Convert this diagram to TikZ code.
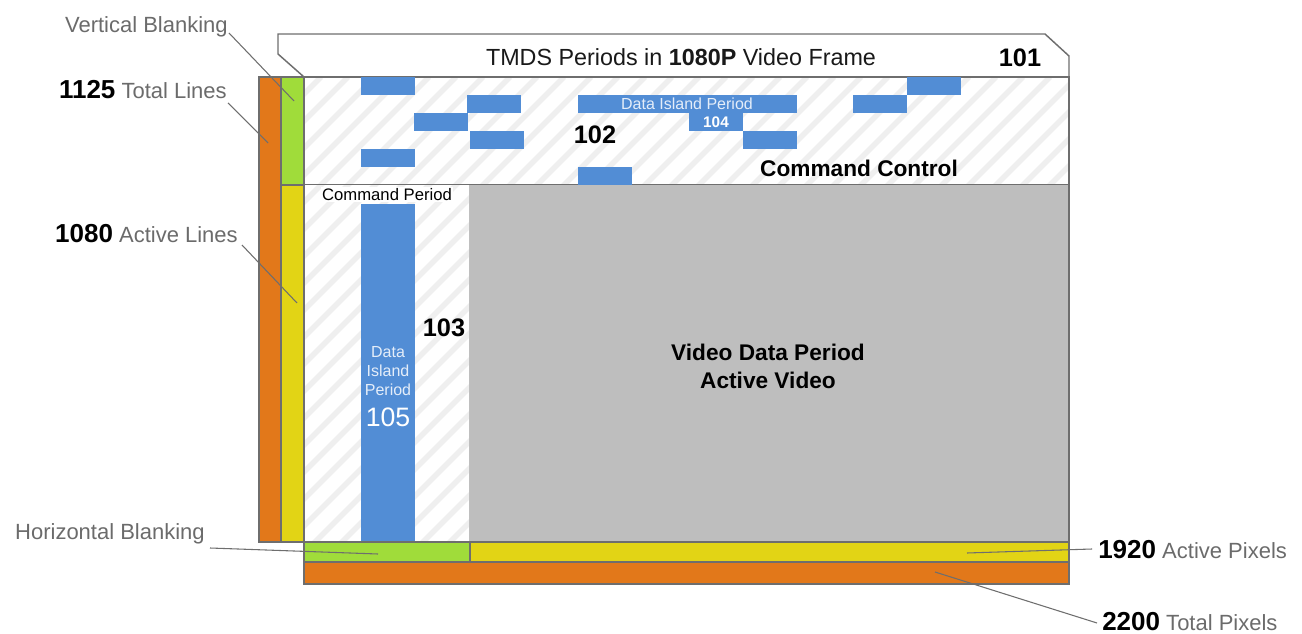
\documentclass[tikz,border=0pt]{standalone}
\usepackage{fontspec}
\setmainfont{Liberation Sans}
\usetikzlibrary{fit}
\definecolor{cOr}{HTML}{E2781A}
\definecolor{cGr}{HTML}{A0DC3A}
\definecolor{cYe}{HTML}{E2D415}
\definecolor{cBl}{HTML}{528DD5}
\definecolor{cGy}{HTML}{BEBEBE}
\definecolor{cBd}{HTML}{6E6E6E}
\definecolor{cLb}{HTML}{6B6B6B}
\definecolor{cHt}{HTML}{EFEFEF}
\definecolor{cTx}{HTML}{E4EDF9}
\newcommand\sidenum[1]{{\color{black}\fontsize{19.5}{20}\selectfont\bfseries #1}}
\begin{document}
\begin{tikzpicture}[x=0.75pt,y=-0.75pt,
  bd/.style={draw=cBd,line width=1.1pt},
  bar/.style={bd,inner sep=0pt},
  blk/.style={fill=cBl,inner sep=0pt},
  hatch/.style={draw=cHt,line width=4pt},
  lead/.style={draw=cBd,line width=0.8pt},
  side/.style={text=cLb,font=\fontsize{16.5}{20}\selectfont,inner sep=0pt},
  big/.style={font=\fontsize{19}{23}\selectfont\bfseries,inner sep=0pt},
  small/.style={font=\fontsize{12}{14.25}\selectfont,inner sep=0pt}]
\useasboundingbox (0,0) rectangle (1302,634);
% title box
\path[bd,fill=white] (278,34) -- (1045,34) -- (1069,56) -- (1069,77) -- (304,77) -- (278,54) -- cycle;
% hatched areas
\fill[white] (304,77) rectangle (1069,185);
\fill[white] (304,185) rectangle (470,542);
\begin{scope}
\clip (304,77) -- (1069,77) -- (1069,185) -- (470,185) -- (470,542) -- (304,542) -- cycle;
\foreach \k in {-8,...,40} \draw[hatch] (\k*27,560) -- ++(483,-483);
\end{scope}
% video area
\node[fill=cGy,inner sep=0pt,fit={(470,185)(1069,542)}] (vid) {};
\draw[draw=black!25,line width=0.6pt] (vid.north west) -- (vid.south west);
\node[bar,fit={(304,77)(1069,542)}] (frame) {};
\draw[bd] (frame.west |- vid.north) -- (vid.north east);
% blue blocks
\node[blk,fit={(361,77)(415,95)}] (b1) {};
\node[blk,fit={(467,95)(521,113)}] (b2) {};
\node[blk,fit={(414,113)(468,131)}] (b3) {};
\node[blk,fit={(470,131)(524,149)}] (b4) {};
\node[blk,fit={(361,149)(415,167)}] (b5) {};
\node[blk,fit={(578,167)(632,185)}] (b6) {};
\node[blk,fit={(578,95)(797,113)}] (dip) {};
\node[blk,fit={(689,113)(743,131)}] (b104) {};
\node[blk,fit={(743,131)(797,149)}] (b7) {};
\node[blk,fit={(853,95)(907,113)}] (b8) {};
\node[blk,fit={(907,77.5)(961,95)}] (b9) {};
\node[blk,fit={(361,204)(415,542)}] (tall) {};
% left bars
\node[bar,fill=cOr,fit={(259,77)(281,542)}] (totL) {};
\node[bar,fill=cGr,fit={(281,77)(304,185)}] (vbl) {};
\node[bar,fill=cYe,fit={(281,185)(304,542)}] (actL) {};
% bottom bars
\node[bar,fill=cGr,fit={(304,542)(470,562)}] (hbl) {};
\node[bar,fill=cYe,fit={(470,542)(1069,562)}] (actP) {};
\node[bar,fill=cOr,fit={(304,562)(1069,584)}] (totP) {};
% texts in frame
\node[anchor=base,font=\fontsize{17.5}{21}\selectfont,inner sep=0pt,text=black!90] (title) at (681,66) {TMDS Periods in \textbf{1080P} Video Frame};
\node[big,anchor=base] (n101) at (1020,67) {101};
\node[big,anchor=base] (n102) at (595,144) {102};
\node[anchor=base,font=\fontsize{17}{21}\selectfont\bfseries,inner sep=0pt] (cc) at (859,177) {Command Control};
\node[small,anchor=base,text=cTx] (diptx) at (687,110) {Data Island Period};
\node[anchor=base,font=\fontsize{11.5}{14}\selectfont\bfseries,inner sep=0pt,text=white] (n104) at (716,128) {104};
\node[anchor=base,font=\fontsize{12.5}{15}\selectfont,fill=white,inner sep=1pt] (cp) at (387,200.5) {Command Period};
\node[big,anchor=base] (n103) at (444,337) {103};
\node[small,align=center,text=cTx] (tdip) at (388,371) {Data\\Island\\Period};
\node[anchor=base,font=\fontsize{20}{24}\selectfont,inner sep=0pt,text=white] (n105) at (388,426) {105};
\node[align=center,font=\fontsize{17}{21}\selectfont\bfseries,inner sep=0pt] (vdp) at (768,366) {Video Data Period\\Active Video};
% side labels
\node[side,anchor=base east] (lvb) at (228,33) {Vertical Blanking};
\node[side,anchor=base east] (ltl) at (227,99) {\sidenum{1125} Total Lines};
\node[side,anchor=base east] (lal) at (238,243) {\sidenum{1080} Active Lines};
\node[side,anchor=base east] (lhb) at (205,539) {Horizontal Blanking};
\node[side,anchor=base west] (lap) at (1098,558) {\sidenum{1920} Active Pixels};
\node[side,anchor=base west] (ltp) at (1102,630) {\sidenum{2200} Total Pixels};
% leader ends
\coordinate (eVB) at (294,101);
\coordinate (eTL) at (268,143);
\coordinate (eAL) at (297,303);
\coordinate (eHB) at (378,554);
\coordinate (eAP) at (967,553);
\coordinate (eTP) at (935,572);
\draw[lead] ([shift={(1,0)}]lvb.base east) -- (eVB);
\draw[lead] ([shift={(1,4)}]ltl.base east) -- (eTL);
\draw[lead] ([shift={(4,2)}]lal.base east) -- (eAL);
\draw[lead] ([shift={(5,9)}]lhb.base east) -- (eHB);
\draw[lead] ([shift={(-6,-9)}]lap.base west) -- (eAP);
\draw[lead] ([shift={(-5,-7)}]ltp.base west) -- (eTP);
\end{tikzpicture}
\end{document}
